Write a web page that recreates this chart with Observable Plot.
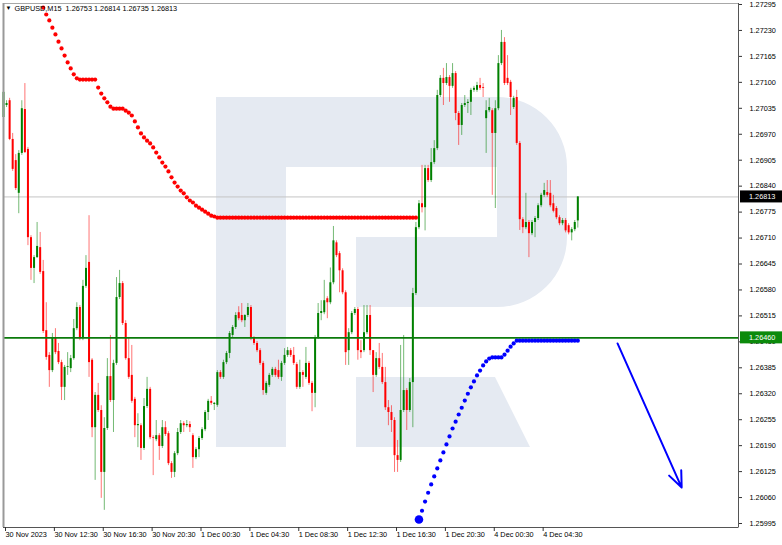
<!DOCTYPE html>
<html><head><meta charset="utf-8">
<script src="https://cdn.jsdelivr.net/npm/d3@7"></script>
<script src="https://cdn.jsdelivr.net/npm/@observablehq/plot@0.6"></script>
<style>
body{margin:0;background:#fff;}
#wrap{position:relative;width:782px;height:545px;overflow:hidden;}
#logo,#chart{position:absolute;left:0;top:0;}
</style></head><body>
<div id="wrap">
<svg id="logo" width="782" height="545"><g fill="#e5eaf2">
<path d="M216,97H286V447H216Z"/>
<path d="M286,97H497A70,70 0 0 1 567,167V237A70,70 0 0 1 497,307H356V237H497V167H286Z"/>
<path d="M356,377H495L530,447H356Z"/>
</g></svg>
<div id="chart"></div></div>
<script>
const titleText = "GBPUSD,M15  1.26753 1.26814 1.26735 1.26813";
const xTicks = [0,16,32,48,64,80,96,112,128,144,160,176];
const xLabels = ["30 Nov 2023","30 Nov 12:30","30 Nov 16:30","30 Nov 20:30","1 Dec 00:30","1 Dec 04:30","1 Dec 08:30","1 Dec 12:30","1 Dec 16:30","1 Dec 20:30","4 Dec 00:30","4 Dec 04:30"];
const yTicks = [1.25995,1.26060,1.26125,1.26190,1.26255,1.26320,1.26385,1.26450,1.26515,1.26580,1.26645,1.26710,1.26775,1.26840,1.26905,1.26970,1.27035,1.27100,1.27165,1.27230,1.27295];
const currentPrice = 1.26813;
const levelPrice = 1.26460;

const open = [1.27012,1.27042,1.27054,1.26957,1.26904,1.26822,1.26922,1.27032,1.26932,1.26711,1.26634,1.26661,1.26686,1.26626,1.26478,1.26416,1.26378,1.26461,1.26426,1.26398,1.26336,1.26386,1.26383,1.26408,1.26483,1.26536,1.26458,1.26589,1.26649,1.26404,1.26235,1.26316,1.26278,1.26123,1.26233,1.26363,1.26303,1.26396,1.26561,1.26596,1.26496,1.26408,1.26366,1.26306,1.26240,1.26240,1.26183,1.26288,1.26331,1.26210,1.26205,1.26215,1.26188,1.26235,1.26220,1.26145,1.26123,1.26170,1.26223,1.26245,1.26240,1.26243,1.26215,1.26160,1.26180,1.26208,1.26230,1.26273,1.26301,1.26293,1.26291,1.26373,1.26361,1.26398,1.26421,1.26466,1.26486,1.26523,1.26516,1.26503,1.26516,1.26536,1.26458,1.26446,1.26428,1.26396,1.26321,1.26341,1.26366,1.26381,1.26378,1.26361,1.26396,1.26416,1.26428,1.26416,1.26393,1.26336,1.26373,1.26361,1.26396,1.26346,1.26321,1.26461,1.26521,1.26523,1.26558,1.26548,1.26598,1.26698,1.26671,1.26628,1.26573,1.26428,1.26473,1.26521,1.26531,1.26428,1.26428,1.26473,1.26516,1.26428,1.26366,1.26408,1.26386,1.26348,1.26285,1.26273,1.26253,1.26165,1.26153,1.26278,1.26328,1.26278,1.26348,1.26571,1.26736,1.26796,1.26786,1.26884,1.26854,1.26899,1.26934,1.27067,1.27110,1.27097,1.27112,1.27090,1.27122,1.27022,1.26992,1.27042,1.27047,1.27050,1.27080,1.27080,1.27092,1.27087,1.27009,1.27029,1.27029,1.26972,1.27034,1.27147,1.27200,1.27110,1.27100,1.27037,1.27062,1.26947,1.26756,1.26736,1.26749,1.26721,1.26749,1.26759,1.26791,1.26817,1.26824,1.26822,1.26796,1.26784,1.26761,1.26746,1.26754,1.26741,1.26723,1.26731,1.26753];
const high = [1.27080,1.27054,1.27060,1.26972,1.26919,1.26929,1.27054,1.27097,1.26937,1.26716,1.26666,1.26749,1.26724,1.26654,1.26548,1.26423,1.26471,1.26483,1.26446,1.26404,1.26391,1.26423,1.26416,1.26506,1.26548,1.26541,1.26604,1.26666,1.26766,1.26408,1.26323,1.26346,1.26290,1.26260,1.26408,1.26466,1.26404,1.26611,1.26629,1.26601,1.26503,1.26461,1.26441,1.26311,1.26270,1.26245,1.26308,1.26361,1.26336,1.26215,1.26253,1.26220,1.26253,1.26250,1.26225,1.26150,1.26175,1.26233,1.26253,1.26250,1.26253,1.26250,1.26220,1.26185,1.26213,1.26235,1.26278,1.26306,1.26313,1.26298,1.26378,1.26378,1.26404,1.26426,1.26476,1.26491,1.26523,1.26538,1.26546,1.26518,1.26546,1.26541,1.26463,1.26451,1.26433,1.26401,1.26351,1.26371,1.26386,1.26386,1.26404,1.26401,1.26433,1.26436,1.26433,1.26436,1.26398,1.26404,1.26378,1.26436,1.26401,1.26351,1.26466,1.26546,1.26553,1.26604,1.26563,1.26635,1.26739,1.26703,1.26676,1.26633,1.26578,1.26483,1.26526,1.26536,1.26536,1.26453,1.26541,1.26541,1.26541,1.26428,1.26423,1.26446,1.26421,1.26386,1.26303,1.26290,1.26260,1.26203,1.26441,1.26466,1.26333,1.26358,1.26584,1.26749,1.26804,1.26892,1.26892,1.26892,1.26934,1.26954,1.27080,1.27117,1.27135,1.27147,1.27117,1.27147,1.27127,1.27027,1.27047,1.27067,1.27057,1.27085,1.27090,1.27100,1.27110,1.27097,1.27054,1.27060,1.27034,1.27054,1.27167,1.27230,1.27212,1.27167,1.27105,1.27065,1.27080,1.26952,1.26761,1.26822,1.26754,1.26754,1.26764,1.26796,1.26822,1.26847,1.26854,1.26854,1.26817,1.26789,1.26766,1.26759,1.26759,1.26746,1.26736,1.26754,1.26814];
const low = [1.27009,1.27037,1.26954,1.26877,1.26829,1.26771,1.26917,1.26922,1.26691,1.26604,1.26596,1.26659,1.26619,1.26471,1.26404,1.26336,1.26373,1.26418,1.26393,1.26303,1.26303,1.26366,1.26373,1.26404,1.26478,1.26453,1.26453,1.26584,1.26361,1.26210,1.26103,1.26273,1.26058,1.26028,1.26228,1.26298,1.26223,1.26391,1.26556,1.26491,1.26404,1.26356,1.26296,1.26210,1.26185,1.26153,1.26178,1.26283,1.26205,1.26115,1.26200,1.26153,1.26183,1.26213,1.26140,1.26108,1.26110,1.26165,1.26218,1.26223,1.26235,1.26223,1.26133,1.26155,1.26160,1.26203,1.26225,1.26253,1.26291,1.26278,1.26286,1.26356,1.26356,1.26393,1.26408,1.26461,1.26481,1.26503,1.26498,1.26486,1.26511,1.26453,1.26441,1.26423,1.26391,1.26316,1.26316,1.26336,1.26361,1.26361,1.26356,1.26351,1.26391,1.26411,1.26411,1.26391,1.26331,1.26331,1.26336,1.26356,1.26341,1.26275,1.26285,1.26456,1.26503,1.26518,1.26508,1.26543,1.26593,1.26661,1.26573,1.26568,1.26391,1.26391,1.26468,1.26516,1.26404,1.26408,1.26423,1.26468,1.26416,1.26323,1.26361,1.26381,1.26343,1.26278,1.26240,1.26223,1.26123,1.26123,1.26148,1.26273,1.26228,1.26273,1.26235,1.26566,1.26731,1.26773,1.26728,1.26849,1.26849,1.26894,1.26929,1.27062,1.27042,1.27092,1.27050,1.27085,1.27004,1.26942,1.26967,1.27037,1.27022,1.27017,1.27075,1.27075,1.27080,1.27062,1.26922,1.27024,1.26817,1.26784,1.27029,1.27142,1.27092,1.27092,1.27017,1.27032,1.26942,1.26729,1.26721,1.26731,1.26661,1.26716,1.26711,1.26754,1.26786,1.26812,1.26812,1.26786,1.26773,1.26756,1.26741,1.26741,1.26723,1.26718,1.26703,1.26726,1.26735];
const close = [1.27075,1.27047,1.26957,1.26882,1.26834,1.26922,1.27034,1.26924,1.26711,1.26634,1.26661,1.26689,1.26624,1.26476,1.26411,1.26378,1.26461,1.26423,1.26398,1.26336,1.26386,1.26388,1.26408,1.26483,1.26536,1.26458,1.26589,1.26634,1.26398,1.26235,1.26316,1.26278,1.26123,1.26233,1.26363,1.26303,1.26396,1.26561,1.26596,1.26496,1.26408,1.26361,1.26301,1.26240,1.26243,1.26183,1.26288,1.26331,1.26210,1.26208,1.26215,1.26188,1.26235,1.26218,1.26145,1.26123,1.26170,1.26223,1.26245,1.26240,1.26243,1.26235,1.26160,1.26180,1.26208,1.26230,1.26273,1.26301,1.26296,1.26296,1.26373,1.26361,1.26398,1.26421,1.26471,1.26486,1.26516,1.26508,1.26503,1.26516,1.26536,1.26458,1.26446,1.26428,1.26396,1.26328,1.26346,1.26366,1.26381,1.26366,1.26361,1.26396,1.26416,1.26428,1.26416,1.26396,1.26336,1.26373,1.26366,1.26396,1.26346,1.26321,1.26461,1.26521,1.26526,1.26553,1.26548,1.26598,1.26703,1.26666,1.26628,1.26573,1.26423,1.26473,1.26521,1.26531,1.26428,1.26423,1.26473,1.26516,1.26428,1.26366,1.26408,1.26386,1.26348,1.26285,1.26273,1.26253,1.26165,1.26153,1.26278,1.26328,1.26278,1.26348,1.26571,1.26736,1.26796,1.26786,1.26884,1.26854,1.26899,1.26934,1.27067,1.27110,1.27097,1.27112,1.27090,1.27122,1.27022,1.26992,1.27042,1.27047,1.27050,1.27080,1.27085,1.27092,1.27085,1.27085,1.27029,1.27037,1.26972,1.27034,1.27147,1.27200,1.27097,1.27097,1.27062,1.27060,1.26947,1.26756,1.26736,1.26749,1.26721,1.26749,1.26759,1.26791,1.26817,1.26829,1.26817,1.26791,1.26777,1.26761,1.26746,1.26754,1.26728,1.26723,1.26731,1.26749,1.26813];

const redStart = 13;
const redDots = [1.27287,1.27270,1.27255,1.27237,1.27220,1.27202,1.27185,1.27167,1.27150,1.27135,1.27120,1.27110,1.27107,1.27107,1.27107,1.27107,1.27107,1.27107,1.27087,1.27072,1.27060,1.27050,1.27039,1.27034,1.27034,1.27034,1.27034,1.27029,1.27024,1.27017,1.27002,1.26987,1.26972,1.26962,1.26954,1.26947,1.26937,1.26924,1.26912,1.26899,1.26889,1.26877,1.26862,1.26849,1.26839,1.26829,1.26822,1.26812,1.26804,1.26799,1.26791,1.26786,1.26781,1.26776,1.26771,1.26766,1.26764,
1.26761,1.26761,1.26761,1.26761,1.26761,1.26761,1.26761,1.26761,1.26761,1.26761,1.26761,1.26761,1.26761,1.26761,1.26761,1.26761,1.26761,1.26761,1.26761,1.26761,1.26761,1.26761,1.26761,1.26761,1.26761,1.26761,1.26761,1.26761,1.26761,1.26761,1.26761,1.26761,1.26761,1.26761,1.26761,1.26761,1.26761,1.26761,1.26761,1.26761,1.26761,1.26761,1.26761,1.26761,1.26761,1.26761,1.26761,1.26761,1.26761,1.26761,1.26761,1.26761,1.26761,1.26761,1.26761,1.26761,1.26761,1.26761,1.26761,1.26761,1.26761,1.26761,1.26761,1.26761,1.26761,1.26761];
const blueStart = 136;
const blueDots = [1.26005,1.26027,1.26050,1.26072,1.26093,1.26113,1.26133,1.26153,1.26173,1.26193,1.26213,1.26233,1.26250,1.26268,1.26285,1.26303,1.26320,1.26336,1.26351,1.26366,1.26378,1.26391,1.26401,1.26408,1.26411,1.26411,1.26411,1.26411,1.26418,1.26428,1.26438,1.26446,
1.26453,1.26453,1.26453,1.26453,1.26453,1.26453,1.26453,1.26453,1.26453,1.26453,1.26453,1.26453,1.26453,1.26453,1.26453,1.26453,1.26453,1.26453,1.26453,1.26453,1.26453];
const arrowFrom = {i: 201, price: 1.26446};
const arrowTo = {i: 222, price: 1.26085};

const rows = open.map((o, i) => ({i, o, h: high[i], l: low[i], c: close[i], col: close[i] >= o ? "#008000" : "#ff0000"}));
const redRows = redDots.map((v, k) => ({i: redStart + k, v}));
const blueRows = blueDots.map((v, k) => ({i: blueStart + k, v}));
const xMax = 240.6, yMin = 1.25985, yMax = 1.272975;
const font = "'Liberation Sans', Arial, sans-serif";

const chart = Plot.plot({
  width: 782, height: 545,
  marginLeft: 3, marginRight: 44, marginTop: 3, marginBottom: 18,
  style: {background: "transparent", fontFamily: font, fontSize: "7.3px", color: "#000"},
  x: {domain: [0, xMax]},
  y: {domain: [yMin, yMax]},
  marks: [
    Plot.ruleY([currentPrice], {stroke: "#c4c4c4", strokeWidth: 1}),
    Plot.ruleX(rows, {x: "i", y1: "l", y2: "h", stroke: "col", strokeWidth: 1, strokeOpacity: 0.55}),
    Plot.ruleX(rows, {x: "i", y1: "o", y2: "c", stroke: "col", strokeWidth: 2}),
    Plot.ruleY([levelPrice], {stroke: "#0b7a0b", strokeWidth: 1.7}),
    Plot.dot(redRows, {x: "i", y: "v", r: 2.1, fill: "#ff0000", stroke: "none", clip: true}),
    Plot.dot(blueRows, {x: "i", y: "v", r: 2.1, fill: "#0000ff", stroke: "none"}),
    Plot.dot(blueRows.slice(0, 1), {x: "i", y: "v", r: 4.3, fill: "#0000ff", stroke: "none"}),
    Plot.arrow([{a: arrowFrom, b: arrowTo}], {x1: d => d.a.i, y1: d => d.a.price, x2: d => d.b.i, y2: d => d.b.price, stroke: "#0000ff", strokeWidth: 2, headLength: 13, headAngle: 45}),
    Plot.frame({stroke: "#a8a8a8"}),
    Plot.ruleX([0], {stroke: "#999", strokeWidth: 2}),
    Plot.ruleX([xMax], {stroke: "#555"}),
    Plot.ruleY([yMin], {stroke: "#555"}),
    Plot.axisX({ticks: xTicks, tickFormat: d => xLabels[xTicks.indexOf(d)], tickSize: 4, tickPadding: 0, textAnchor: "start", dx: 2, label: null, stroke: "#333"}),
    Plot.axisY({anchor: "right", ticks: yTicks, tickFormat: d3.format(".5f"), tickSize: 3, tickPadding: 8, textAnchor: "start", label: null, stroke: "#333"}),
    Plot.text(["▼"], {frameAnchor: "top-left", dx: 2, dy: 2, lineAnchor: "top", textAnchor: "start", fontSize: 6, fill: "#000"}),
    Plot.text([titleText], {frameAnchor: "top-left", dx: 11, dy: 2, lineAnchor: "top", textAnchor: "start", fill: "#000", fontSize: 7.3})
  ]
});

const ys = chart.scale("y");
const sel = d3.select(chart);
[[currentPrice, "#000000"], [levelPrice, "#0b8a0b"]].forEach(([p, c]) => {
  const y = ys.apply(p);
  const g = sel.append("g");
  g.append("rect").attr("x", 740).attr("y", y - 6).attr("width", 42).attr("height", 12).attr("fill", c);
  g.append("text").attr("x", 749).attr("y", y).attr("dy", "0.34em").attr("fill", "#fff")
    .attr("text-anchor", "start").attr("font-family", font).attr("font-size", "7.3px")
    .text(d3.format(".5f")(p));
});
document.getElementById("chart").appendChild(chart);
</script>
</body></html>
